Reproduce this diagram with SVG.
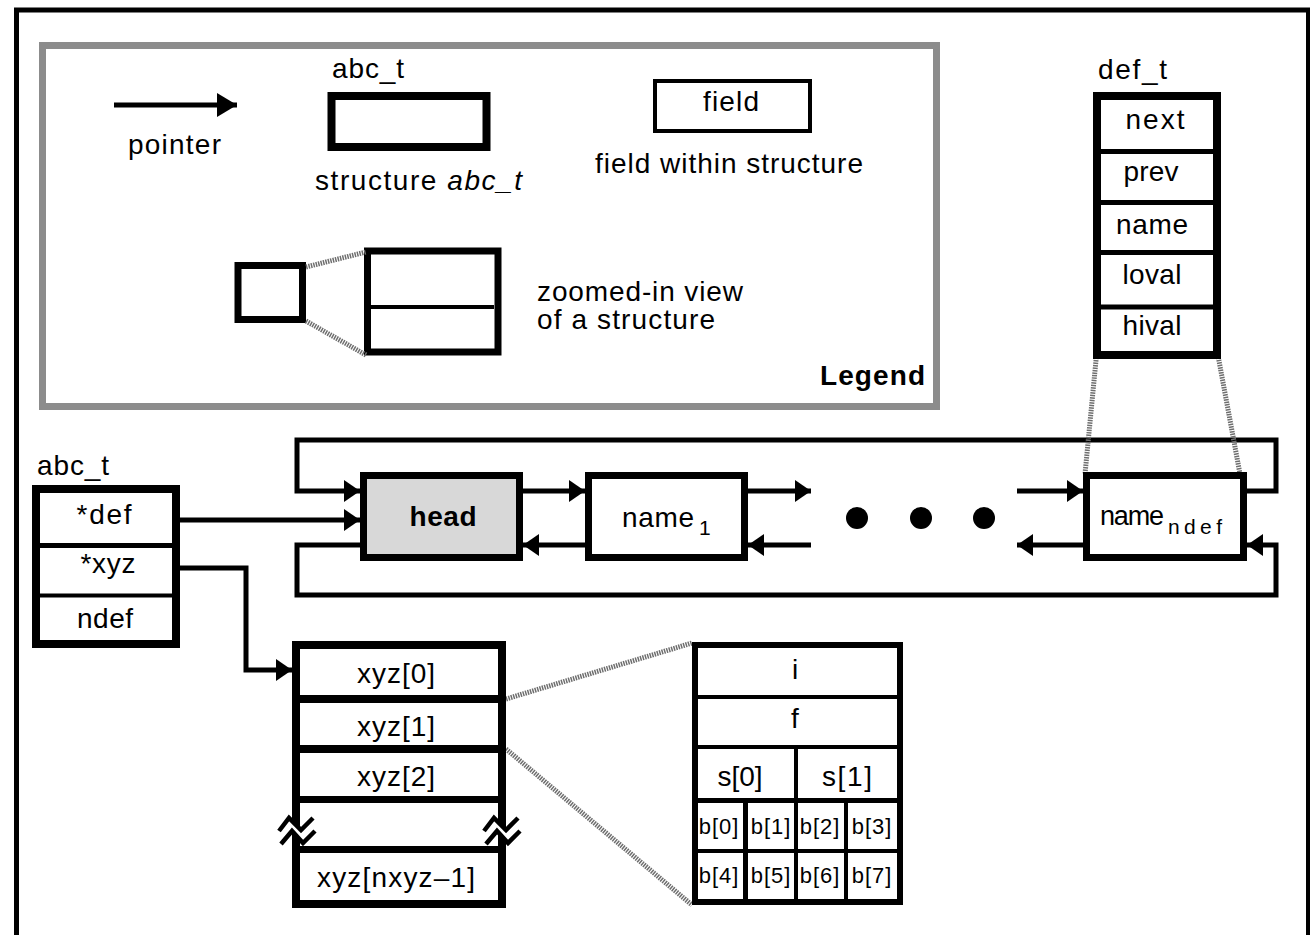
<svg xmlns="http://www.w3.org/2000/svg" width="1310" height="935" viewBox="0 0 1310 935">
<defs>
<style>
.t{font-family:"Liberation Sans",Arial,sans-serif;font-size:28px;fill:#000}
.b{font-weight:bold}
.c{text-anchor:middle}
.sm{font-size:22px;letter-spacing:1px}
.sub{font-size:21px}
.box{fill:#fff;stroke:#000}
.div{stroke:#000;fill:none}
.conn{fill:none;stroke:#000;stroke-width:5}
.zl{fill:none;stroke:#6e6e6e;stroke-width:5;stroke-dasharray:1.5 1}
</style>
<marker id="ah" markerUnits="userSpaceOnUse" viewBox="0 0 16 22" markerWidth="16" markerHeight="22" refX="16" refY="11" orient="auto">
<path d="M0,0 L16,11 L0,22 Z" fill="#000"/>
</marker>
<marker id="ahL" markerUnits="userSpaceOnUse" viewBox="0 0 20 24" markerWidth="20" markerHeight="24" refX="20" refY="12" orient="auto">
<path d="M0,0 L20,12 L0,24 Z" fill="#000"/>
</marker>
<g id="brk">
<path d="M-18,5 L-8,-8 L4,4 L16,-8 L18,5 L6,17 L-5,5 L-16,18 Z" fill="#fff"/>
<path d="M-18,5 L-8,-8 L4,4 L16,-8 M-16,18 L-5,5 L6,17 L18,5" fill="none" stroke="#000" stroke-width="4.5"/>
</g>
</defs>
<rect width="1310" height="935" fill="#fff"/>
<!-- outer frame -->
<rect x="16.5" y="10" width="1292" height="940" fill="none" stroke="#000" stroke-width="5"/>

<!-- Legend -->
<g id="legend">
<rect x="42.5" y="45.5" width="894" height="361" fill="none" stroke="#8c8c8c" stroke-width="7"/>
<path d="M114,105 H237" class="conn" marker-end="url(#ahL)"/>
<text class="t" x="128" y="154" textLength="93">pointer</text>
<text class="t" x="332" y="78" textLength="72">abc_t</text>
<rect class="box" x="331.5" y="96" width="155" height="51" stroke-width="8"/>
<text class="t" x="315" y="190" textLength="207">structure <tspan font-style="italic">abc_t</tspan></text>
<rect class="box" x="655" y="81" width="155" height="50" stroke-width="4"/>
<text class="t c" x="731" y="111" textLength="56">field</text>
<text class="t" x="595" y="173" textLength="268">field within structure</text>
<rect class="box" x="238" y="265.5" width="64.5" height="54" stroke-width="7"/>
<rect class="box" x="367.5" y="251" width="130.5" height="101" stroke-width="7"/>
<line class="div" x1="371" y1="307" x2="494" y2="307" stroke-width="4"/>
<line class="zl" x1="306" y1="267" x2="366" y2="252" stroke-width="4"/>
<line class="zl" x1="306" y1="321" x2="366" y2="355" stroke-width="4"/>
<text class="t" x="537" y="301" textLength="206">zoomed-in view</text>
<text class="t" x="537" y="329" textLength="178">of a structure</text>
<text class="t b" x="820" y="385" textLength="105">Legend</text>
</g>

<!-- connectors -->
<g id="connectors">
<path class="conn" d="M1247,491 H1276 V440 H297 V491 H360" marker-end="url(#ah)"/>
<path class="conn" d="M363,545 H297 V595 H1276 V545 H1247" marker-end="url(#ah)"/>
<path class="conn" d="M180,520 H360" marker-end="url(#ah)"/>
<path class="conn" d="M523,491 H585" marker-end="url(#ah)"/>
<path class="conn" d="M585,545 H523" marker-end="url(#ah)"/>
<path class="conn" d="M748,491 H811" marker-end="url(#ah)"/>
<path class="conn" d="M811,545 H748" marker-end="url(#ah)"/>
<path class="conn" d="M1017,491 H1083" marker-end="url(#ah)"/>
<path class="conn" d="M1083,545 H1017" marker-end="url(#ah)"/>
<path class="conn" d="M180,568 H246 V670 H292" marker-end="url(#ah)"/>
<line class="zl" x1="1097" y1="350" x2="1085" y2="474"/>
<line class="zl" x1="1217" y1="350" x2="1240" y2="474"/>
<line class="zl" x1="506" y1="699" x2="692" y2="643"/>
<line class="zl" x1="506" y1="749" x2="692" y2="905"/>
</g>

<!-- def_t -->
<g id="def_t">
<text class="t" x="1098" y="79" textLength="69">def_t</text>
<rect class="box" x="1097" y="96" width="120" height="259" stroke-width="8"/>
<g class="div" stroke-width="5">
<line x1="1097" y1="151.5" x2="1217" y2="151.5"/>
<line x1="1097" y1="202.5" x2="1217" y2="202.5"/>
<line x1="1097" y1="252.5" x2="1217" y2="252.5"/>
<line x1="1097" y1="307" x2="1217" y2="307"/>
</g>
<text class="t c" x="1155" y="129" textLength="59">next</text>
<text class="t c" x="1151" y="181" textLength="55">prev</text>
<text class="t c" x="1152" y="234" textLength="72">name</text>
<text class="t c" x="1152" y="284" textLength="59">loval</text>
<text class="t c" x="1152" y="335" textLength="59">hival</text>
</g>

<!-- abc_t -->
<g id="abc_t">
<text class="t" x="37" y="475" textLength="72">abc_t</text>
<rect class="box" x="36" y="489" width="140" height="155" stroke-width="8"/>
<line class="div" x1="36" y1="545.5" x2="176" y2="545.5" stroke-width="5"/>
<line class="div" x1="36" y1="595.5" x2="176" y2="595.5" stroke-width="4"/>
<text class="t c" x="104" y="524" textLength="55">*def</text>
<text class="t c" x="108" y="573" textLength="55">*xyz</text>
<text class="t c" x="105" y="628" textLength="56">ndef</text>
</g>

<!-- list nodes -->
<g id="head">
<rect x="363.5" y="475.5" width="156" height="82" fill="#d8d8d8" stroke="#000" stroke-width="7"/>
<text class="t b c" x="443" y="526" textLength="67">head</text>
</g>
<g id="name1">
<rect class="box" x="588.5" y="475.5" width="156" height="82" stroke-width="7"/>
<text class="t" x="622" y="527" textLength="72">name</text>
<text class="t sub" x="699" y="535">1</text>
</g>
<g id="dots">
<circle cx="857" cy="518" r="11"/>
<circle cx="921" cy="518" r="11"/>
<circle cx="984" cy="518" r="11"/>
</g>
<g id="namendef">
<rect class="box" x="1086.5" y="475.5" width="157" height="82" stroke-width="7"/>
<text class="t" x="1100" y="525" style="font-size:27px" textLength="64">name</text>
<text class="t sub" x="1168" y="534" textLength="54">ndef</text>
</g>

<!-- xyz array -->
<g id="xyz">
<rect class="box" x="296" y="645" width="206" height="259" stroke-width="8"/>
<g class="div">
<line x1="296" y1="699" x2="502" y2="699" stroke-width="8"/>
<line x1="296" y1="749" x2="502" y2="749" stroke-width="8"/>
<line x1="296" y1="799.5" x2="502" y2="799.5" stroke-width="7"/>
<line x1="296" y1="849.5" x2="502" y2="849.5" stroke-width="7"/>
</g>
<use href="#brk" x="297" y="826"/>
<use href="#brk" x="502" y="826"/>
<text class="t c" x="396" y="683" textLength="78">xyz[0]</text>
<text class="t c" x="396" y="736" textLength="78">xyz[1]</text>
<text class="t c" x="396" y="786" textLength="78">xyz[2]</text>
<text class="t c" x="396" y="887" textLength="158">xyz[nxyz–1]</text>
</g>

<!-- zoomed xyz element -->
<g id="elem">
<rect class="box" x="695" y="645" width="205" height="257" stroke-width="6"/>
<g class="div">
<line x1="695" y1="697" x2="900" y2="697" stroke-width="4"/>
<line x1="695" y1="747" x2="900" y2="747" stroke-width="4"/>
<line x1="695" y1="800.5" x2="900" y2="800.5" stroke-width="5"/>
<line x1="695" y1="851" x2="900" y2="851" stroke-width="4"/>
<line x1="796" y1="747" x2="796" y2="902" stroke-width="4"/>
<line x1="745.5" y1="800" x2="745.5" y2="902" stroke-width="5"/>
<line x1="846" y1="800" x2="846" y2="902" stroke-width="4"/>
</g>
<text class="t c" x="795" y="679">i</text>
<text class="t c" x="795" y="728">f</text>
<text class="t c" x="740" y="786" textLength="45">s[0]</text>
<text class="t c" x="847" y="786" textLength="50">s[1]</text>
<text class="t c sm" x="719" y="834">b[0]</text>
<text class="t c sm" x="771" y="834">b[1]</text>
<text class="t c sm" x="820" y="834">b[2]</text>
<text class="t c sm" x="872" y="834">b[3]</text>
<text class="t c sm" x="719" y="883">b[4]</text>
<text class="t c sm" x="771" y="883">b[5]</text>
<text class="t c sm" x="820" y="883">b[6]</text>
<text class="t c sm" x="872" y="883">b[7]</text>
</g>
</svg>
